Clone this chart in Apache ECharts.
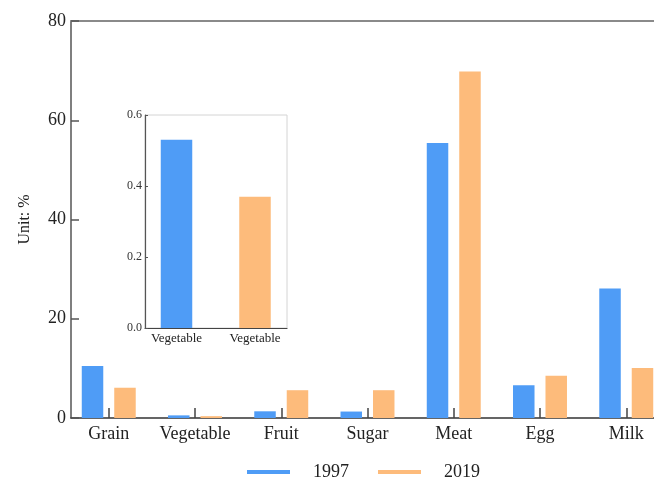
<!DOCTYPE html>
<html>
<head>
<meta charset="utf-8">
<script src="https://cdn.jsdelivr.net/npm/echarts@6/dist/echarts.min.js"></script>
<style>
html,body{margin:0;padding:0;background:#fff;}
#c{width:654px;height:477px;}
</style>
</head>
<body>
<div id="c"></div>
<script>
// ---- data ----
var categories = ['Grain', 'Vegetable', 'Fruit', 'Sugar', 'Meat', 'Egg', 'Milk'];
var values1997 = [10.5, 0.53, 1.35, 1.3, 55.4, 6.6, 26.1];
var values2019 = [6.1, 0.37, 5.6, 5.6, 69.8, 8.5, 10.1];
var seriesNames = ['1997', '2019'];
var yTicks = [0, 20, 40, 60, 80];
var insetCategories = ['Vegetable', 'Vegetable'];
var insetIndex = 1; // Vegetable
var insetTicks = [0, 0.2, 0.4, 0.6];

var BLUE = '#4f9cf6', ORANGE = '#fdbb7b';
var FONT = '"Liberation Serif", "Times New Roman", serif';

var catIdx = categories.map(function (_, i) { return i; });
var d1997 = values1997.map(function (v, i) { return [i, v]; });
var d2019 = values2019.map(function (v, i) { return [i, v]; });
var ins1997 = [[0, values1997[insetIndex]]];
var ins2019 = [[1, values2019[insetIndex]]];

var chart = echarts.init(document.getElementById('c'), null, {renderer: 'canvas'});
chart.setOption({
  animation: false,
  backgroundColor: '#fff',
  legend: {
    data: seriesNames,
    left: 242, top: 458,
    icon: 'rect', itemWidth: 43, itemHeight: 4, itemGap: 29,
    textStyle: {fontFamily: FONT, fontSize: 18, color: '#222', padding: [0, 0, 0, 18]}
  },
  grid: [
    {left: 71, right: 0, top: 21, bottom: 59},
    {left: 145, right: 367, top: 115, bottom: 149, show: true, borderColor: '#d4d4d4', borderWidth: 1, backgroundColor: 'transparent'}
  ],
  xAxis: [
    {
      type: 'value', gridIndex: 0, min: -0.4377, max: 6.3217,
      splitLine: {show: false},
      axisLine: {show: true, onZero: false, lineStyle: {color: '#333', width: 1.5}},
      axisTick: {show: true, inside: true, length: 10, customValues: catIdx, lineStyle: {color: '#444', width: 1.5}},
      axisLabel: {customValues: catIdx, margin: 7, fontFamily: FONT, fontSize: 18, color: '#222',
        formatter: function (v) { return categories[Math.round(v)] || ''; }}
    },
    {
      type: 'value', gridIndex: 0, position: 'top', min: -0.4377, max: 6.3217,
      splitLine: {show: false}, axisTick: {show: false}, axisLabel: {show: false},
      axisLine: {show: true, onZero: false, lineStyle: {color: '#8a8a8a', width: 2}}
    },
    {
      type: 'value', gridIndex: 1, min: -0.4013, max: 1.4076,
      splitLine: {show: false},
      axisLine: {show: true, onZero: false, lineStyle: {color: '#444', width: 1.2}},
      axisTick: {show: true, inside: true, length: 5, customValues: [0, 1], lineStyle: {color: '#444', width: 1.2}},
      axisLabel: {customValues: [0, 1], margin: 4, fontFamily: FONT, fontSize: 13, color: '#222',
        formatter: function (v) { return insetCategories[Math.round(v)] || ''; }}
    }
  ],
  yAxis: [
    {
      type: 'value', gridIndex: 0, min: 0, max: 80, interval: 20,
      name: 'Unit: %', nameLocation: 'middle', nameGap: 38,
      nameTextStyle: {fontFamily: FONT, fontSize: 16, color: '#222'},
      splitLine: {show: false},
      axisLine: {show: true, onZero: false, lineStyle: {color: '#555', width: 1.5}},
      axisTick: {show: true, inside: true, length: 8, lineStyle: {color: '#555', width: 1.5}},
      axisLabel: {margin: 5, fontFamily: FONT, fontSize: 18, color: '#222'}
    },
    {
      type: 'value', gridIndex: 1, min: 0, max: 0.6, interval: 0.2,
      splitLine: {show: false},
      axisLine: {show: true, onZero: false, lineStyle: {color: '#555', width: 1.2}},
      axisTick: {show: true, inside: true, length: 3, lineStyle: {color: '#555'}},
      axisLabel: {margin: 3, fontFamily: FONT, fontSize: 12, color: '#333',
        formatter: function (v) { return v.toFixed(1); }}
    }
  ],
  series: [
    {name: seriesNames[0], type: 'bar', xAxisIndex: 0, yAxisIndex: 0, data: d1997,
      barWidth: 21.5, barGap: '51%', itemStyle: {color: BLUE}},
    {name: seriesNames[1], type: 'bar', xAxisIndex: 0, yAxisIndex: 0, data: d2019,
      barWidth: 21.5, barGap: '51%', itemStyle: {color: ORANGE}},
    {name: seriesNames[0], type: 'bar', xAxisIndex: 2, yAxisIndex: 1, data: ins1997,
      barWidth: 31.5, barGap: '-100%', itemStyle: {color: BLUE}},
    {name: seriesNames[1], type: 'bar', xAxisIndex: 2, yAxisIndex: 1, data: ins2019,
      barWidth: 31.5, barGap: '-100%', itemStyle: {color: ORANGE}}
  ]
});
</script>
</body>
</html>
